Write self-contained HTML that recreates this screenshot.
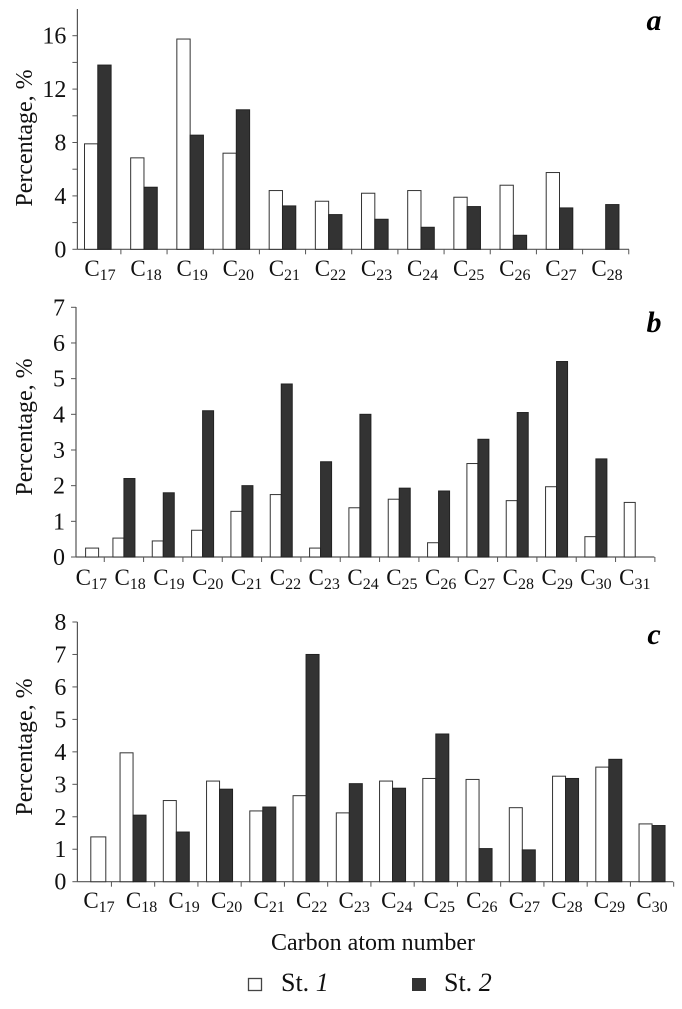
<!DOCTYPE html>
<html><head><meta charset="utf-8"><style>
html,body{margin:0;padding:0;background:#fff;}
svg, svg text{font-family:"Liberation Serif","DejaVu Serif",serif;}
</style></head><body>
<svg id="chart" width="682" height="1004" viewBox="0 0 682 1004" font-family="Liberation Serif, serif"></svg>
<script>
// Panel a
const catsA = [17,18,19,20,21,22,23,24,25,26,27,28];
const st1A = [7.9,6.85,15.75,7.2,4.4,3.6,4.2,4.4,3.9,4.8,5.75,0];
const st2A = [13.8,4.65,8.55,10.45,3.25,2.6,2.25,1.65,3.2,1.05,3.1,3.35];
const ticksA = [0,4,8,12,16];
// Panel b
const catsB = [17,18,19,20,21,22,23,24,25,26,27,28,29,30,31];
const st1B = [0.25,0.53,0.45,0.75,1.28,1.75,0.25,1.38,1.62,0.4,2.62,1.58,1.97,0.57,1.53];
const st2B = [0,2.2,1.8,4.1,2.0,4.85,2.67,4.0,1.93,1.85,3.3,4.05,5.48,2.75,0];
const ticksB = [0,1,2,3,4,5,6,7];
// Panel c
const catsC = [17,18,19,20,21,22,23,24,25,26,27,28,29,30];
const st1C = [1.38,3.97,2.5,3.1,2.18,2.65,2.12,3.1,3.18,3.15,2.28,3.25,3.53,1.78];
const st2C = [0,2.05,1.53,2.85,2.3,7.0,3.02,2.88,4.55,1.02,0.98,3.18,3.77,1.73];
const ticksC = [0,1,2,3,4,5,6,7,8];

const NS = "http://www.w3.org/2000/svg";
const FONT = '"Liberation Serif", serif';
const svg = document.getElementById('chart');
function mk(tag, attrs, parent){
  const e = document.createElementNS(NS, tag);
  for (const k in attrs) e.setAttribute(k, attrs[k]);
  if (tag === 'text') e.style.fontFamily = FONT;
  (parent||svg).appendChild(e);
  return e;
}

function panel(cfg){
  const g = mk('g', {});
  
  
  const y = v => cfg.base - v / cfg.ymax * (cfg.base - cfg.top);
  const xs = i => cfg.s0 + cfg.step * i;
  const ya = mk('line', {x1:cfg.ax, y1:cfg.axTop, x2:cfg.ax, y2:cfg.base, stroke:'#555', 'stroke-width':1.2}, g);
  
  
  const xa = mk('line', {x1:cfg.ax, y1:cfg.base, x2:cfg.right, y2:cfg.base, stroke:'#555', 'stroke-width':1.2}, g);
  
  
  for (let v = 0; v <= cfg.ymax + 1e-9; v += cfg.minor){
    mk('line', {x1:cfg.ax-5, y1:y(v), x2:cfg.ax, y2:y(v), stroke:'#555', 'stroke-width':1}, g);
  }
  cfg.ticks.forEach(v => {
    const t = mk('text', {x:cfg.ax-11, y:y(v)+8, 'text-anchor':'end', 'font-size':24, fill:'#111'}, g);
    t.textContent = v;
    
    
  });
  for (let i = 1; i <= cfg.cats.length; i++){
    const tx = xs(i) - cfg.step/2;
    if (tx > cfg.ax + 3 && tx <= cfg.right + 1) mk('line', {x1:tx, y1:cfg.base, x2:tx, y2:cfg.base+5, stroke:'#555', 'stroke-width':1}, g);
  }
  cfg.cats.forEach((c, i) => {
    const sp = xs(i);
    if (cfg.s1[i] > 0){
      // lone first bar (no St. 2 value) sits in the right slot, slightly wider
      const lone = (i === 0 && !(cfg.s2[i] > 0));
      const bx = lone ? sp + 1 : sp - cfg.bw;
      const bw = lone ? cfg.bw + 2 : cfg.bw;
      const r = mk('rect', {x:bx, y:y(cfg.s1[i]), width:bw, height:cfg.base-y(cfg.s1[i]), fill:'#fff', stroke:'#333', 'stroke-width':1}, g);
      
      
    }
    if (cfg.s2[i] > 0){
      const r = mk('rect', {x:sp, y:y(cfg.s2[i]), width:cfg.bw, height:cfg.base-y(cfg.s2[i]), fill:'#333', stroke:'#222', 'stroke-width':1}, g);
      
      
    }
    const lx = cfg.l0 + (cfg.l1 - cfg.l0) * i / (cfg.cats.length - 1);
    const t = mk('text', {x:lx, y:cfg.ly, 'text-anchor':'middle', 'font-size':23, fill:'#111'}, g);
    
    
    const ts = mk('tspan', {}, t); ts.textContent = 'C';
    const sub = mk('tspan', {'font-size':16, dy:4}, t); sub.textContent = c;
  });
  const yt = mk('text', {x:0, y:0, 'text-anchor':'middle', 'font-size':24, fill:'#111', transform:`translate(32,${cfg.tc}) rotate(-90)`}, g);
  yt.textContent = 'Percentage, %';
  
  
  const pl = mk('text', {x:654, y:cfg.letY, 'text-anchor':'middle', 'font-size':30, 'font-weight':'bold', 'font-style':'italic', fill:'#000'}, g);
  pl.textContent = cfg.id;
  
  
}

panel({id:'a', cats:catsA, s1:st1A, s2:st2A, ticks:ticksA, ymax:16, minor:2, base:249.3, top:35.7, axTop:9,
  ax:77.4, right:629, s0:97.8, step:46.17, bw:13.3, l0:100, l1:607, ly:276, tc:138, letY:30});
panel({id:'b', cats:catsB, s1:st1B, s2:st2B, ticks:ticksB, ymax:7, minor:1, base:557, top:307.3, axTop:307,
  ax:76, right:654.4, s0:84.6, step:39.33, bw:11, l0:91.3, l1:634.8, ly:585, tc:427, letY:332});
panel({id:'c', cats:catsC, s1:st1C, s2:st2C, ticks:ticksC, ymax:8, minor:1, base:881.7, top:622, axTop:622,
  ax:77.4, right:673, s0:89.8, step:43.25, bw:13, l0:99, l1:652, ly:908, tc:747, letY:644});

const xt = mk('text', {x:373, y:950, 'text-anchor':'middle', 'font-size':24, fill:'#111'});
xt.textContent = 'Carbon atom number';



const lg = mk('g', {});


const r1 = mk('rect', {x:248.5, y:978.5, width:13, height:12, fill:'#fff', stroke:'#444', 'stroke-width':1.3}, lg);


const t1 = mk('text', {x:281, y:991, 'font-size':26, fill:'#111'}, lg);
t1.innerHTML = 'St. <tspan font-style="italic">1</tspan>';


const r2 = mk('rect', {x:412, y:978, width:14, height:13, fill:'#333'}, lg);


const t2 = mk('text', {x:444, y:991, 'font-size':26, fill:'#111'}, lg);
t2.innerHTML = 'St. <tspan font-style="italic">2</tspan>';


</script>
</body></html>
